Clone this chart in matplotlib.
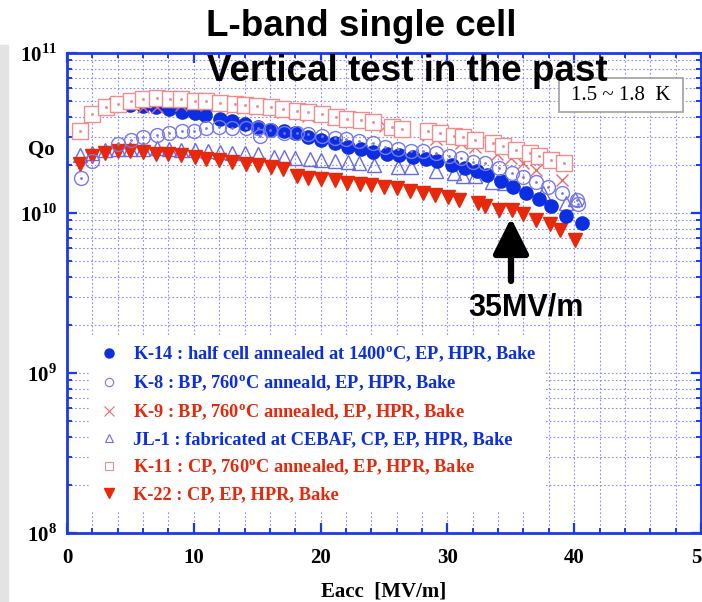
import numpy as np
import matplotlib.pyplot as plt
from matplotlib.ticker import LogLocator, MultipleLocator, FuncFormatter, NullFormatter
from matplotlib.lines import Line2D
from matplotlib.patches import Rectangle

# Eacc [MV/m] and Qo (in units of 1e10)
k14_x = [3.6, 5.0, 6.0, 7.0, 8.07, 9.1, 10.1, 10.9, 12.1, 13.0, 14.0, 15.1, 16.1, 17.1, 18.0,
         19.0, 20.0, 21.1, 22.2, 23.2, 24.15, 25.2, 26.2, 27.3, 28.3, 29.2, 30.4, 31.4, 32.3,
         33.1, 34.2, 35.2, 36.2, 37.2, 38.2, 39.35, 40.6]
k14_q = [4.79, 4.73, 4.68, 4.57, 4.45, 4.30, 4.20, 4.07, 3.89, 3.76, 3.58, 3.43, 3.31, 3.24, 3.15,
         3.00, 2.86, 2.75, 2.59, 2.50, 2.42, 2.34, 2.29, 2.25, 2.16, 2.11, 2.00, 1.92, 1.84,
         1.73, 1.58, 1.45, 1.33, 1.23, 1.10, 0.955, 0.86]

k8_x = [1.07, 2.0, 4.0, 5.05, 6.0, 7.07, 8.07, 9.1, 10.0, 11.0, 12.0, 13.0, 14.1, 15.1, 15.2,
        16.0, 17.1, 18.1, 19.0, 20.1, 21.1, 22.0, 23.05, 24.1, 25.1, 26.1, 27.1, 28.1, 29.1,
        30.1, 31.1, 32.0, 33.0, 34.1, 35.07, 36.0, 37.0, 37.96, 39.0, 40.2, 40.3]
k8_q = [1.65, 2.10, 2.69, 2.86, 3.00, 3.09, 3.16, 3.27, 3.27, 3.39, 3.43, 3.39, 3.39, 3.41, 3.02,
        3.31, 3.16, 3.16, 3.12, 3.04, 2.93, 2.88, 2.82, 2.73, 2.59, 2.51, 2.45, 2.45, 2.36,
        2.27, 2.20, 2.09, 2.06, 1.91, 1.77, 1.67, 1.57, 1.46, 1.34, 1.20, 1.14]

k9_x = [3.1, 6.0, 7.1, 9.0, 11.0, 13.0, 15.0, 17.0, 19.0, 21.0, 23.0, 25.1, 28.5, 29.1,
        31.1, 32.2, 33.9, 35.0, 36.0, 37.0, 39.06]
k9_q = [4.57, 4.57, 4.62, 4.75, 4.70, 4.55, 4.45, 4.25, 4.05, 3.85, 3.70, 3.52, 3.09, 2.88,
        2.75, 2.59, 2.34, 2.20, 2.04, 1.87, 1.61]

jl1_x = [1.0, 2.0, 3.0, 4.0, 5.0, 6.0, 7.07, 8.07, 9.0, 10.1, 11.1, 12.1, 13.0, 14.0, 15.1,
         16.3, 17.1, 18.0, 19.2, 20.0, 21.1, 22.2, 23.05, 24.2, 26.1, 27.1, 29.1, 30.5, 31.25,
         32.2, 33.5, 34.5, 37.5, 39.35, 40.1]
jl1_q = [2.29, 2.38, 2.48, 2.51, 2.51, 2.51, 2.54, 2.51, 2.49, 2.48, 2.44, 2.40, 2.38, 2.36, 2.33,
         2.25, 2.24, 2.20, 2.19, 2.14, 2.11, 2.07, 2.04, 2.00, 1.93, 1.93, 1.84, 1.77, 1.70,
         1.70, 1.57, 1.53, 1.34, 1.16, 1.22]

k11_x = [1.0, 2.0, 3.1, 4.0, 5.05, 6.0, 7.07, 8.1, 9.0, 10.1, 11.0, 12.07, 13.25, 14.0, 15.0,
         16.1, 17.0, 18.1, 19.0, 20.1, 21.2, 22.1, 23.2, 24.1, 25.6, 26.4, 28.5, 29.4, 30.5,
         31.2, 32.2, 33.6, 34.4, 35.4, 36.5, 37.2, 38.2, 39.2]
k11_q = [3.27, 4.14, 4.57, 4.79, 5.01, 5.13, 5.21, 5.13, 5.13, 5.01, 5.01, 4.90, 4.79, 4.73, 4.68,
         4.57, 4.45, 4.37, 4.27, 4.14, 3.98, 3.89, 3.80, 3.69, 3.43, 3.33, 3.24, 3.16, 3.02,
         2.97, 2.86, 2.73, 2.63, 2.48, 2.36, 2.27, 2.14, 2.04]

k22_x = [1.0, 2.0, 3.0, 4.0, 5.0, 6.0, 7.0, 8.0, 9.0, 10.1, 11.0, 12.0, 13.0, 14.1, 15.1, 16.1,
         17.0, 18.1, 19.0, 20.0, 21.1, 22.1, 23.1, 24.0, 25.0, 26.0, 27.05, 28.05, 29.0, 30.07,
         30.9, 32.4, 33.0, 34.1, 35.07, 36.0, 37.0, 38.1, 38.9, 40.1]
k22_q = [2.02, 2.27, 2.38, 2.43, 2.45, 2.40, 2.34, 2.34, 2.29, 2.24, 2.19, 2.14, 2.09, 2.02, 2.00, 1.93,
         1.88, 1.71, 1.66, 1.64, 1.61, 1.55, 1.52, 1.49, 1.46, 1.43, 1.37, 1.33, 1.29, 1.25,
         1.20, 1.16, 1.10, 1.05, 1.05, 0.99, 0.91, 0.85, 0.78, 0.68]

labels = ['K-14 : half cell annealed at 1400$^{\\rm o}$C, EP, HPR, Bake',
          'K-8 : BP, 760$^{\\rm o}$C anneald, EP, HPR, Bake',
          'K-9 : BP, 760$^{\\rm o}$C annealed, EP, HPR, Bake',
          'JL-1 : fabricated at CEBAF, CP, EP, HPR, Bake',
          'K-11 : CP, 760$^{\\rm o}$C annealed, EP, HPR, Bake',
          'K-22 : CP, EP, HPR, Bake']

blue = '#0b2fe0'
red = '#e8280a'
axis_blue = '#1a3be8'

plt.rcParams['font.family'] = ['Liberation Serif', 'DejaVu Serif']
plt.rcParams['font.weight'] = 'bold'
plt.rcParams['mathtext.fontset'] = 'custom'
plt.rcParams['mathtext.rm'] = 'Liberation Serif:bold'
plt.rcParams['mathtext.bf'] = 'Liberation Serif:bold'

fig = plt.figure(figsize=(7.02, 6.02), dpi=100)
fig.patches.append(Rectangle((0, 0), 8 / 702, 1 - 45 / 602, transform=fig.transFigure,
                             color='#e3e3e3', zorder=0))
ax = fig.add_axes([67 / 702, 1 - 533 / 602, 634 / 702, 480 / 602])

sc = 1e10
ax.plot(jl1_x, np.array(jl1_q) * sc, ls='none', marker='^', ms=10, mfc='none', mec='#6a6ae8', mew=1)
ax.plot(k22_x, np.array(k22_q) * sc, ls='none', marker='v', ms=10.5, color=red, mec=red)
ax.plot(k14_x, np.array(k14_q) * sc, ls='none', marker='o', ms=9.5, color=blue, mec=blue)
ax.plot(k8_x, np.array(k8_q) * sc, ls='none', marker='o', ms=10, mfc='none', mec='#7878f0', mew=1)
ax.plot(k8_x, np.array(k8_q) * sc, ls='none', marker='o', ms=1, color='#7878f0')
ax.plot(k9_x, np.array(k9_q) * sc, ls='none', marker='x', ms=9, color='#f06a6a', mew=1)
ax.plot(k11_x, np.array(k11_q) * sc, ls='none', marker='s', ms=11, mfc='white', mec='#f08c8c', mew=1)
ax.plot(k11_x, np.array(k11_q) * sc, ls='none', marker='s', ms=1, color='#f08c8c')

ax.set_yscale('log')
ax.set_xlim(0, 50)
ax.set_ylim(1e8, 1e11)
ax.xaxis.set_major_locator(MultipleLocator(10))
ax.xaxis.set_minor_locator(MultipleLocator(2))
ax.yaxis.set_major_locator(LogLocator(base=10))
ax.yaxis.set_minor_locator(LogLocator(base=10, subs=np.arange(2, 10)))
ax.yaxis.set_minor_formatter(NullFormatter())
ax.yaxis.set_major_formatter(FuncFormatter(
    lambda v, p: r'$\mathbf{10}^{\mathrm{%d}}$' % round(np.log10(v))))

ax.set_axisbelow(True)
ax.grid(which='both', color='#8c8cf0', linestyle=(0, (1.5, 2)), linewidth=0.8)
ax.tick_params(which='both', direction='in', top=True, right=True, color=axis_blue,
               labelsize=15, labelcolor='black')
ax.tick_params(which='major', length=7, width=1.6)
ax.tick_params(which='minor', length=3.5, width=1.4)
ax.tick_params(axis='x', pad=11)
ax.tick_params(axis='y', pad=7)
for s in ax.spines.values():
    s.set_color(axis_blue)
    s.set_linewidth(2)

ax.set_xlabel('Eacc  [MV/m]', fontsize=15, fontweight='bold')
ax.xaxis.set_label_coords(0.50, -0.102)
ax.set_ylabel('Qo', fontsize=15, fontweight='bold', rotation=0, ha='center', va='center')
ax.yaxis.set_label_coords(-0.041, 0.798)

handles = [
    Line2D([], [], ls='none', marker='o', ms=6.5, color=blue),
    Line2D([], [], ls='none', marker='o', ms=6, mfc='none', mec='#7878f0', mew=0.8),
    Line2D([], [], ls='none', marker='x', ms=7, color='#f06a6a', mew=0.8),
    Line2D([], [], ls='none', marker='^', ms=6, mfc='none', mec='#6a6ae8', mew=0.8),
    Line2D([], [], ls='none', marker='s', ms=6, mfc='none', mec='#f08c8c', mew=0.8),
    Line2D([], [], ls='none', marker='v', ms=7.5, color=red),
]
leg = ax.legend(handles, labels, loc='upper left', bbox_to_anchor=(0.036, 0.413),
                borderaxespad=0, borderpad=0.5, handlelength=1.1, handletextpad=0.75,
                labelspacing=0.5, fontsize=13.2, frameon=True, fancybox=False,
                facecolor='white', edgecolor='none', framealpha=1)
for t, c in zip(leg.get_texts(), [blue, blue, red, blue, red, red]):
    t.set_color(c)

# temperature box
fig.patches.append(Rectangle((559 / 702, 1 - 112 / 602), 124 / 702, 34 / 602,
                             transform=fig.transFigure, facecolor='white',
                             edgecolor='#a0a0a0', lw=1.2, zorder=3))
fig.text(621 / 702, 1 - 95 / 602, '1.5 ~ 1.8  K', ha='center', va='center',
         fontsize=15, fontweight='normal', zorder=4)

# titles
fig.text(361 / 702, 1 - 36 / 602, 'L-band single cell', ha='center', va='baseline',
         fontsize=26.5, fontweight='bold', family='Liberation Sans')
fig.text(407 / 702, 1 - 81 / 602, 'Vertical test in the past', ha='center', va='baseline',
         fontsize=26.5, fontweight='bold', family='Liberation Sans')

# 35 MV/m arrow
ax.annotate('', xy=(511, 602 - 218), xytext=(511, 602 - 281), xycoords='figure pixels',
            arrowprops=dict(arrowstyle='-|>,head_length=1.08,head_width=0.54',
                            mutation_scale=20, lw=4.5, color='black', shrinkA=0, shrinkB=0))
fig.text(526 / 702, 1 - 307 / 602, '35MV/m', ha='center', va='center', fontsize=22,
         fontweight='bold', family='Liberation Sans')

fig.savefig('out.png', dpi=100)
